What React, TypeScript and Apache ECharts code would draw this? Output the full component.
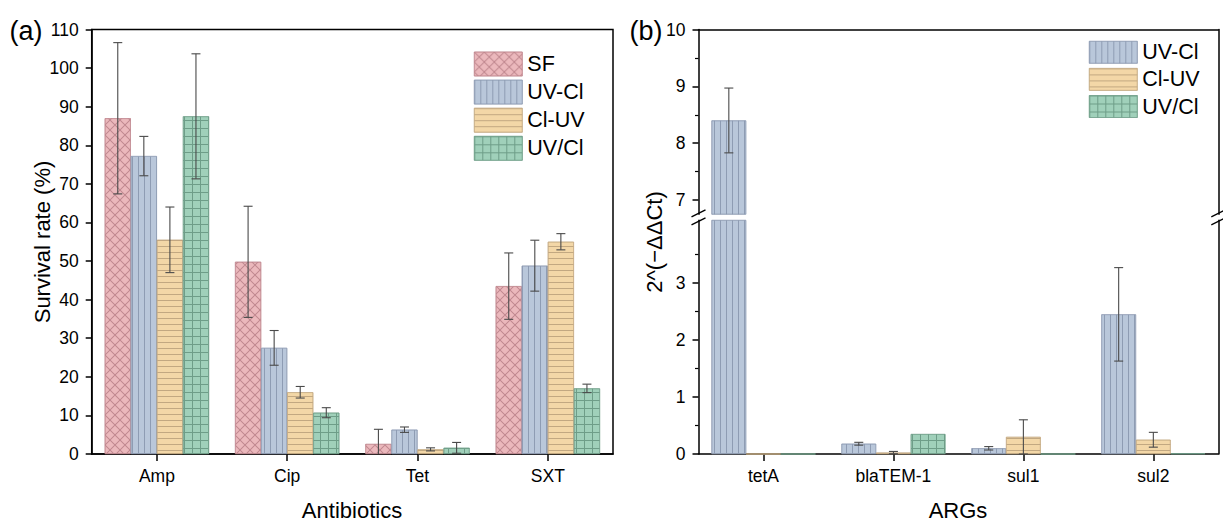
import React, { useEffect, useRef } from 'react';
import * as echarts from 'echarts';

// ---------- data ----------
const antibiotics = ['Amp', 'Cip', 'Tet', 'SXT'];
const sfRate = [87, 49.8, 2.6, 43.5];
const sfErr = [19.6, 14.4, 3.8, 8.6];
const uvClRate = [77.2, 27.5, 6.3, 48.8];
const uvClErr = [5.1, 4.5, 0.7, 6.6];
const clUvRate = [55.5, 16, 1.2, 55];
const clUvErr = [8.5, 1.5, 0.4, 2.1];
const uvSlashClRate = [87.5, 10.7, 1.6, 17];
const uvSlashClErr = [16.2, 1.3, 1.4, 1.1];

const argGenes = ['tetA', 'blaTEM-1', 'sul1', 'sul2'];
const uvClFold = [8.4, 0.18, 0.1, 2.45];
const uvClFoldErr = [0.57, 0.025, 0.03, 0.82];
const clUvFold = [0, 0.025, 0.3, 0.25];
const clUvFoldErr = [0, 0.02, 0.3, 0.13];
const uvSlashClFold = [0, 0.35, 0, 0.01];
const uvSlashClFoldErr = [0, 0, 0, 0];

const upperTicks = [7, 8, 9, 10];
const upperMinor = [7.5, 8.5, 9.5];
const lowerTicks = [0, 1, 2, 3];
const lowerMinor = [0.5, 1.5, 2.5, 3.5];

const legendA = ['SF', 'UV-Cl', 'Cl-UV', 'UV/Cl'];
const legendB = ['UV-Cl', 'Cl-UV', 'UV/Cl'];

// ---------- styles ----------
const FONT = "'Liberation Sans', Arial, Helvetica, sans-serif";
const LINE = { color: '#000', width: 1.5 };
const ERR = '#4a4a4a';

const COLORS: Record<string, { fill: string; line: string }> = {
  SF: { fill: '#EBB8BC', line: '#C0878F' },
  'UV-Cl': { fill: '#B9C7DA', line: '#8E9CB3' },
  'Cl-UV': { fill: '#F3D7A7', line: '#C2A881' },
  'UV/Cl': { fill: '#A0D0BA', line: '#6E9D88' },
};

const CROSS_PATH = 'path://M0,0L0.7,0L10,9.3L10,10L9.3,10L0,0.7Z M10,0L10,0.7L0.7,10L0,10L0,9.3L9.3,0Z';
const GRID_PATH = 'path://M0,0L8,0L8,1L1,1L1,8L0,8Z';

function decalFor(name: string): any {
  const c = COLORS[name];
  const base = { symbolSize: 1, symbolKeepAspect: false, color: c.line };
  if (name === 'SF') return { ...base, symbol: CROSS_PATH, dashArrayX: [10, 0], dashArrayY: [10, 0] };
  if (name === 'UV-Cl') return { ...base, symbol: 'rect', dashArrayX: [1, 5], dashArrayY: [4, 0] };
  if (name === 'Cl-UV') return { ...base, symbol: 'rect', dashArrayX: [4, 0], dashArrayY: [1, 5] };
  return { ...base, symbol: GRID_PATH, dashArrayX: [8, 0], dashArrayY: [8, 0] };
}

function itemStyleFor(name: string): any {
  const c = COLORS[name];
  return { color: c.fill, borderColor: c.line, borderWidth: 0.6, decal: decalFor(name) };
}

function barSeries(name: string, values: number[], xi: number, yi: number): any {
  return {
    type: 'bar',
    name,
    xAxisIndex: xi,
    yAxisIndex: yi,
    data: values,
    barGap: '0%',
    barCategoryGap: '20%',
    itemStyle: itemStyleFor(name),
    emphasis: { disabled: true },
    z: 2,
  };
}

function errSeries(values: number[], errs: number[], idx: number, n: number, xi: number, yi: number, lo: number, hi: number): any {
  return {
    type: 'custom',
    xAxisIndex: xi,
    yAxisIndex: yi,
    z: 5,
    silent: true,
    data: values.map((v, i) => [i, v, errs[i]]),
    renderItem: (params: any, api: any) => {
      const ci = api.value(0);
      const v = api.value(1);
      const e = api.value(2);
      if (!e) return null;
      const top = v + e;
      const bot = v - e;
      if (top < lo || bot > hi) return null;
      const band = api.size([1, 0])[0];
      const cx = api.coord([ci, lo])[0] - band * 0.4 + (band * 0.8 / n) * (idx + 0.5);
      const yTop = api.coord([ci, Math.min(top, hi)])[1];
      const yBot = api.coord([ci, Math.max(bot, lo)])[1];
      const st = { stroke: ERR, lineWidth: 1.1 };
      const children: any[] = [
        { type: 'line', shape: { x1: cx, y1: yTop, x2: cx, y2: yBot }, style: st },
      ];
      const hw = 4.5;
      if (top <= hi) children.push({ type: 'line', shape: { x1: cx - hw, y1: yTop, x2: cx + hw, y2: yTop }, style: st });
      if (bot >= lo) children.push({ type: 'line', shape: { x1: cx - hw, y1: yBot, x2: cx + hw, y2: yBot }, style: st });
      return { type: 'group', children };
    },
  };
}

const TICK_FS = 17.5;
const TITLE_FS = 22;
const LEGEND_FS = 21.5;
const tickLabel = { fontSize: TICK_FS, color: '#000', fontFamily: FONT };

function lineOnlyY(gridIndex: number): any {
  return {
    gridIndex,
    type: 'value',
    position: 'right',
    min: 0,
    max: 1,
    axisLine: { show: true, onZero: false, lineStyle: LINE },
    axisTick: { show: false },
    axisLabel: { show: false },
    splitLine: { show: false },
  };
}

function majorY(gridIndex: number, min: number, max: number, ticks: number[]): any {
  return {
    gridIndex,
    type: 'value',
    position: 'left',
    min,
    max,
    axisLine: { show: true, onZero: false, lineStyle: LINE },
    axisTick: { show: true, length: 6, lineStyle: LINE, customValues: ticks },
    axisLabel: { ...tickLabel, margin: 13, customValues: ticks },
    splitLine: { show: false },
  };
}

function minorY(gridIndex: number, min: number, max: number, ticks: number[]): any {
  return {
    gridIndex,
    type: 'value',
    position: 'left',
    min,
    max,
    axisLine: { show: false, onZero: false },
    axisTick: { show: true, length: 3.5, lineStyle: { color: '#000', width: 1.2 }, customValues: ticks },
    axisLabel: { show: false },
    splitLine: { show: false },
  };
}

const LOW_MAX = 4.1;
const UP_MIN = 6.75;

function textEl(text: string, x: number, y: number, size: number, rotate = false): any {
  return {
    type: 'text',
    x,
    y,
    rotation: rotate ? Math.PI / 2 : 0,
    style: {
      text,
      fontSize: size,
      fontFamily: FONT,
      fill: '#000',
      align: 'center',
      verticalAlign: 'middle',
      textAlign: 'center',
      textVerticalAlign: 'middle',
    },
  };
}

function breakMarks(X: number, yc: number): any[] {
  return [-4, 4].map((dy) => ({
    type: 'line',
    shape: { x1: X - 7, y1: yc + dy + 3.5, x2: X + 7, y2: yc + dy - 3.5 },
    style: { stroke: '#000', lineWidth: 1.3 },
    z: 10,
  }));
}

const option: any = {
  animation: false,
  textStyle: { fontFamily: FONT },
  grid: [
    { left: 91.7, right: 610, top: 29.5, bottom: 67, show: true, borderColor: '#000', borderWidth: 1.5 },
    { left: 698.5, right: 4.7, top: 29.5, height: 184.75 },
    { left: 698.5, right: 4.7, top: 220.3, bottom: 67 },
  ],
  xAxis: [
    {
      gridIndex: 0,
      type: 'category',
      data: antibiotics,
      axisLine: { show: true, onZero: false, lineStyle: LINE },
      axisTick: { show: true, alignWithLabel: true, length: 7, lineStyle: LINE },
      axisLabel: { ...tickLabel, margin: 13 },
      splitLine: { show: false },
    },
    {
      gridIndex: 1,
      type: 'category',
      data: argGenes,
      position: 'top',
      axisLine: { show: true, onZero: false, lineStyle: LINE },
      axisTick: { show: false },
      axisLabel: { show: false },
      splitLine: { show: false },
    },
    {
      gridIndex: 2,
      type: 'category',
      data: argGenes,
      position: 'bottom',
      axisLine: { show: true, onZero: false, lineStyle: LINE },
      axisTick: { show: true, alignWithLabel: true, length: 7, lineStyle: LINE },
      axisLabel: { ...tickLabel, margin: 13 },
      splitLine: { show: false },
    },
  ],
  yAxis: [
    {
      gridIndex: 0,
      type: 'value',
      min: 0,
      max: 110,
      interval: 10,
      axisLine: { show: true, onZero: false, lineStyle: LINE },
      axisTick: { show: true, length: 6, lineStyle: LINE },
      axisLabel: { ...tickLabel, margin: 13 },
      splitLine: { show: false },
    },
    majorY(1, UP_MIN, 10, upperTicks),
    lineOnlyY(1),
    minorY(1, UP_MIN, 10, upperMinor),
    majorY(2, 0, LOW_MAX, lowerTicks),
    lineOnlyY(2),
    minorY(2, 0, LOW_MAX, lowerMinor),
  ],
  legend: [
    {
      left: 474,
      top: 51.7,
      orient: 'vertical',
      itemWidth: 48,
      itemHeight: 24,
      itemGap: 3.5,
      padding: 0,
      selectedMode: false,
      textStyle: { fontSize: LEGEND_FS, color: '#000', fontFamily: FONT },
      data: legendA.map((n) => ({ name: n, icon: 'rect', itemStyle: itemStyleFor(n) })),
    },
    {
      left: 1089,
      top: 41,
      orient: 'vertical',
      itemWidth: 48,
      itemHeight: 22,
      itemGap: 4.5,
      padding: 0,
      selectedMode: false,
      textStyle: { fontSize: LEGEND_FS, color: '#000', fontFamily: FONT },
      data: legendB.map((n) => ({ name: n, icon: 'rect', itemStyle: itemStyleFor(n) })),
    },
  ],
  series: [
    barSeries('SF', sfRate, 0, 0),
    barSeries('UV-Cl', uvClRate, 0, 0),
    barSeries('Cl-UV', clUvRate, 0, 0),
    barSeries('UV/Cl', uvSlashClRate, 0, 0),
    errSeries(sfRate, sfErr, 0, 4, 0, 0, 0, 110),
    errSeries(uvClRate, uvClErr, 1, 4, 0, 0, 0, 110),
    errSeries(clUvRate, clUvErr, 2, 4, 0, 0, 0, 110),
    errSeries(uvSlashClRate, uvSlashClErr, 3, 4, 0, 0, 0, 110),

    barSeries('UV-Cl', uvClFold, 1, 1),
    barSeries('Cl-UV', clUvFold, 1, 1),
    barSeries('UV/Cl', uvSlashClFold, 1, 1),
    errSeries(uvClFold, uvClFoldErr, 0, 3, 1, 1, UP_MIN, 10),
    errSeries(clUvFold, clUvFoldErr, 1, 3, 1, 1, UP_MIN, 10),
    errSeries(uvSlashClFold, uvSlashClFoldErr, 2, 3, 1, 1, UP_MIN, 10),

    barSeries('UV-Cl', uvClFold, 2, 4),
    barSeries('Cl-UV', clUvFold, 2, 4),
    barSeries('UV/Cl', uvSlashClFold, 2, 4),
    errSeries(uvClFold, uvClFoldErr, 0, 3, 2, 4, 0, LOW_MAX),
    errSeries(clUvFold, clUvFoldErr, 1, 3, 2, 4, 0, LOW_MAX),
    errSeries(uvSlashClFold, uvSlashClFoldErr, 2, 3, 2, 4, 0, LOW_MAX),
  ],
  graphic: [
    textEl('(a)', 26, 31, 27),
    textEl('Survival rate (%)', 42, 242, TITLE_FS, true),
    textEl('Antibiotics', 352, 510, TITLE_FS),
    textEl('(b)', 646, 31, 27),
    textEl('2^(\u2212\u0394\u0394Ct)', 654, 242, TITLE_FS, true),
    textEl('ARGs', 958, 510, TITLE_FS),
    ...breakMarks(698.5, 217.3),
    ...breakMarks(1218.3, 217.3),
  ],
};

export default function App() {
  const ref = useRef<HTMLDivElement>(null);
  useEffect(() => {
    document.body.style.margin = '0';
    const chart = echarts.init(ref.current as HTMLDivElement, null, { renderer: 'svg' });
    chart.setOption(option);
    return () => chart.dispose();
  }, []);
  return <div ref={ref} style={{ width: 1223, height: 521 }} />;
}
